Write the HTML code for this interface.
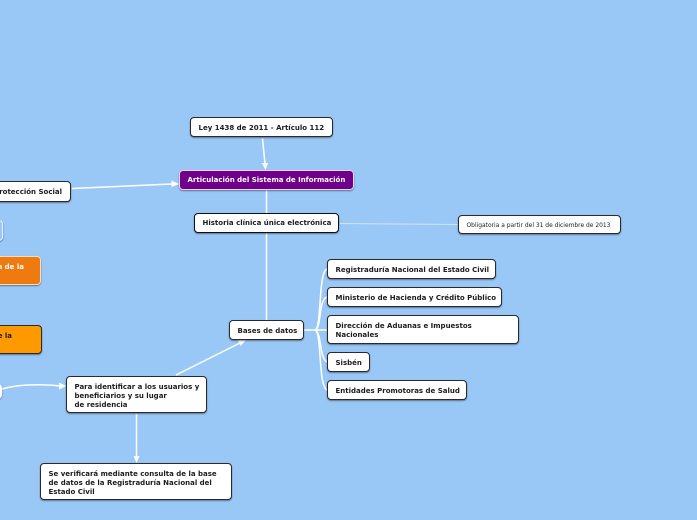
<!DOCTYPE html>
<html><head><meta charset="utf-8">
<style>
html,body{margin:0;padding:0}
body{width:697px;height:520px;background:#9ac8f6;position:relative;overflow:hidden;font-family:"DejaVu Sans","Liberation Sans",sans-serif}
.n{position:absolute;box-sizing:border-box;background:#fff;border:1px solid #2a2a2a;border-radius:4px;box-shadow:0 1px 1.5px rgba(50,60,80,.6);font-weight:700;font-size:7px;line-height:9px;color:#1c1c1c;white-space:nowrap}
.n span{position:absolute;left:7.500px}
svg{position:absolute;left:0;top:0}
</style></head><body>
<svg width="697" height="520" fill="none" stroke="#fff" stroke-width="1.500">
<path d="M72 188.500L172 184"/><path d="M171.500 180.500L179 184L171.500 187Z" fill="#fff" stroke="none"/>
<path d="M262.500 138.500L265 164"/><path d="M261.800 163L265.500 170L268 163Z" fill="#fff" stroke="none"/>
<path d="M266.500 190V213"/>
<path d="M266.500 233V320"/>
<path d="M340 223.500L458 224.500" stroke="#cfe4fa" stroke-width="1"/>
<path d="M304 330H316"/>
<path d="M315 330C322 328 318 272 327 269"/>
<path d="M315 330C322 328 318 300 327 297"/>
<path d="M315 330H327"/>
<path d="M315 330C322 332 319 358 327 362"/>
<path d="M315 330C322 332 318 386 327 390"/>
<path d="M176 375L240 343"/><path d="M237.500 339L246 340L240.500 346Z" fill="#fff" stroke="none"/>
<path d="M2 389C20 384 40 384 60 386"/><path d="M59 382.500L66 386L59 389.500Z" fill="#fff" stroke="none"/>
<path d="M136.500 414V457"/><path d="M133.500 456L136.500 463L139.500 456Z" fill="#fff" stroke="none"/>
</svg>

<div class="n" style="left:190px;top:117px;width:143px;height:20px"><span style="top:6px">Ley 1438 de 2011 - Artículo 112</span></div>
<div class="n" style="left:179px;top:170px;width:175px;height:20px;background:#70008a;border-color:#e8d8f0;color:#fff"><span style="top:5px">Articulación del Sistema de Información</span></div>
<div class="n" style="left:194px;top:213px;width:145px;height:20px;border-color:#111"><span style="top:5px">Historia clínica única electrónica</span></div>
<div class="n" style="left:458px;top:215px;width:163px;height:19px;font-weight:400;font-size:5.950px"><span style="top:5px">Obligatoria a partir del 31 de diciembre de 2013</span></div>
<div class="n" style="left:229px;top:320px;width:75px;height:20px"><span style="top:6px">Bases de datos</span></div>
<div class="n" style="left:327px;top:259px;width:169px;height:20px"><span style="top:6px">Registraduría Nacional del Estado Civil</span></div>
<div class="n" style="left:327px;top:287px;width:175px;height:20px"><span style="top:6px">Ministerio de Hacienda y Crédito Público</span></div>
<div class="n" style="left:327px;top:315px;width:192px;height:29px"><span style="top:6px">Dirección de Aduanas e Impuestos<br>Nacionales</span></div>
<div class="n" style="left:327px;top:352px;width:43px;height:20px"><span style="top:6px">Sisbén</span></div>
<div class="n" style="left:327px;top:380px;width:140px;height:20px"><span style="top:6px">Entidades Promotoras de Salud</span></div>
<div class="n" style="left:66px;top:376px;width:141px;height:37px"><span style="top:6px">Para identificar a los usuarios y<br>beneficiarios y su lugar<br>de residencia</span></div>
<div class="n" style="left:40px;top:463px;width:192px;height:37px"><span style="top:6px">Se verificará mediante consulta de la base<br>de datos de la Registraduría Nacional del<br>Estado Civil</span></div>

<div class="n" style="left:-120px;top:181px;width:191px;height:21px"><span style="left:auto;right:8px;top:6px">Protección Social</span></div>
<div class="n" style="left:-40px;top:220px;width:43px;height:21px;background:#9ac8f6;border-color:#e6f0fb"></div>
<div class="n" style="left:-60px;top:256px;width:101px;height:29px;background:#ef7a10;border-color:#f6dcc4;color:#fff"><span style="left:auto;right:16px;top:6px">n de la</span></div>
<div class="n" style="left:-60px;top:325px;width:102px;height:29px;background:#ff9900"><span style="left:auto;right:29px;top:6px">e la</span></div>
<div class="n" style="left:-40px;top:384px;width:42px;height:15px;border-color:#fff"></div>
</body></html>
